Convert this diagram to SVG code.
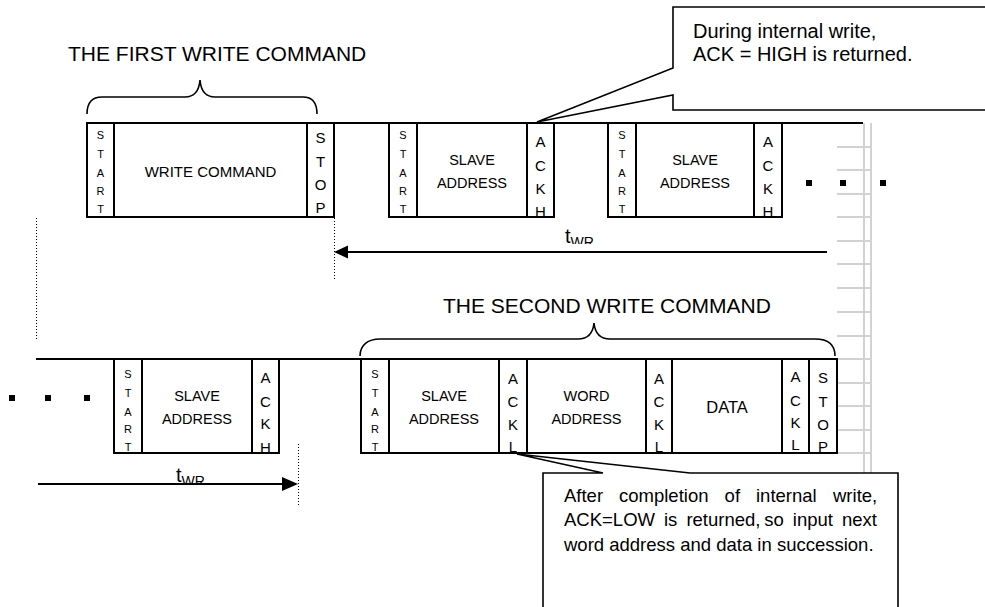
<svg xmlns="http://www.w3.org/2000/svg" width="985" height="607" viewBox="0 0 985 607">
<defs>
<style>
.cell{fill:none;stroke:#000;stroke-width:2}
.line{fill:none;stroke:#000;stroke-width:2}
.dot{fill:none;stroke:#000;stroke-width:1;stroke-dasharray:1 2}
.grid{fill:none;stroke:#d2d2d2;stroke-width:2}
.brace{fill:none;stroke:#000;stroke-width:1.6}
.call{fill:#fff;stroke:#000;stroke-width:1.6}
text{font-family:"Liberation Sans",Arial,sans-serif;fill:#000}
.v{font-size:15px;text-anchor:middle}
.s{font-size:11px;text-anchor:middle}
.c{font-size:14.5px;text-anchor:middle}
.title{font-size:21px}
.note{font-size:20px}
.note2{font-size:18.5px}
.t{font-size:20px}
.sub{font-size:14px}
</style>
<clipPath id="clipTop"><rect x="550" y="220" width="60" height="24"/></clipPath>
<clipPath id="clipBot"><rect x="160" y="460" width="60" height="24"/></clipPath>
</defs>
<rect width="985" height="607" fill="#fff"/>

<g id="grid">
<line class="grid" x1="864" y1="123" x2="864" y2="473"/>
<line class="grid" x1="871" y1="123" x2="871" y2="473"/>
<path class="grid" d="M837,147H871M837,170H871M837,194H871M837,217H871M837,241H871M837,264H871M837,288H871M837,312H871M837,336H871M837,359H871M837,383H871M837,406H871M837,430H871M837,453H871"/>
</g>

<g id="labels">
<text class="title" x="68" y="61">THE FIRST WRITE COMMAND</text>
<text class="title" x="443" y="313">THE SECOND WRITE COMMAND</text>
<path class="brace" d="M87,114C87,103 92,97 102,97L185,97C194,97 199,92 200,80C201,92 206,97 215,97L303,97C313,97 317,103 317,114"/>
<path class="brace" d="M360,356C360,345 368,339 380,339L578,339C588,339 593,333 594,323C595,333 600,339 610,339L815,339C828,339 835,345 835,356"/>
</g>

<g id="timeline-top">
<line class="line" x1="87" y1="123" x2="863" y2="123"/>
</g>
<g id="timeline-bottom">
<line class="line" x1="36" y1="359" x2="837" y2="359"/>
</g>

<g id="t1-start">
<text class="s" x="100.5" y="139">S</text><text class="s" x="100.5" y="158">T</text><text class="s" x="100.5" y="177">A</text><text class="s" x="100.5" y="195">R</text><text class="s" x="100.5" y="213">T</text>
<rect class="cell" x="87" y="123" width="27" height="94"/>
</g>
<g id="t1-write-command">
<text x="210.5" y="177" style="font-size:15px;text-anchor:middle">WRITE COMMAND</text>
<rect class="cell" x="114" y="123" width="193" height="94"/>
</g>
<g id="t1-stop">
<text class="v" x="320.5" y="143">S</text><text class="v" x="320.5" y="167">T</text><text class="v" x="320.5" y="190">O</text><text class="v" x="320.5" y="213">P</text>
<rect class="cell" x="307" y="123" width="27" height="94"/>
</g>

<g id="t2-start">
<text class="s" x="403" y="139">S</text><text class="s" x="403" y="158">T</text><text class="s" x="403" y="177">A</text><text class="s" x="403" y="195">R</text><text class="s" x="403" y="213">T</text>
<rect class="cell" x="389" y="123" width="28" height="94"/>
</g>
<g id="t2-slave">
<text class="c" x="472" y="165">SLAVE</text><text class="c" x="472" y="188">ADDRESS</text>
<rect class="cell" x="417" y="123" width="110" height="94"/>
</g>
<g id="t2-ack">
<text class="v" x="540.5" y="147">A</text><text class="v" x="540.5" y="171">C</text><text class="v" x="540.5" y="194">K</text><text class="v" x="540.5" y="217">H</text>
<rect class="cell" x="527" y="123" width="27" height="94"/>
</g>

<g id="t3-start">
<text class="s" x="622" y="139">S</text><text class="s" x="622" y="158">T</text><text class="s" x="622" y="177">A</text><text class="s" x="622" y="195">R</text><text class="s" x="622" y="213">T</text>
<rect class="cell" x="608" y="123" width="28" height="94"/>
</g>
<g id="t3-slave">
<text class="c" x="695" y="165">SLAVE</text><text class="c" x="695" y="188">ADDRESS</text>
<rect class="cell" x="636" y="123" width="118" height="94"/>
</g>
<g id="t3-ack">
<text class="v" x="768" y="147">A</text><text class="v" x="768" y="171">C</text><text class="v" x="768" y="194">K</text><text class="v" x="768" y="217">H</text>
<rect class="cell" x="754" y="123" width="28" height="94"/>
</g>
<g id="dots-top">
<rect x="806" y="180" width="6" height="6"/><rect x="840" y="180" width="6" height="6"/><rect x="880" y="180" width="6" height="6"/>
</g>

<g id="b1-start">
<text class="s" x="128" y="378">S</text><text class="s" x="128" y="397">T</text><text class="s" x="128" y="416">A</text><text class="s" x="128" y="433">R</text><text class="s" x="128" y="451">T</text>
<rect class="cell" x="114" y="359" width="28" height="94"/>
</g>
<g id="b1-slave">
<text class="c" x="197" y="401">SLAVE</text><text class="c" x="197" y="424">ADDRESS</text>
<rect class="cell" x="142" y="359" width="110" height="94"/>
</g>
<g id="b1-ack">
<text class="v" x="265.5" y="383">A</text><text class="v" x="265.5" y="407">C</text><text class="v" x="265.5" y="429">K</text><text class="v" x="265.5" y="453">H</text>
<rect class="cell" x="252" y="359" width="27" height="94"/>
</g>
<g id="dots-bottom">
<rect x="9" y="395" width="6" height="6"/><rect x="45" y="395" width="6" height="6"/><rect x="84" y="395" width="6" height="6"/>
</g>

<g id="b2-start">
<text class="s" x="375" y="378">S</text><text class="s" x="375" y="397">T</text><text class="s" x="375" y="416">A</text><text class="s" x="375" y="433">R</text><text class="s" x="375" y="451">T</text>
<rect class="cell" x="361" y="359" width="28" height="94"/>
</g>
<g id="b2-slave">
<text class="c" x="444" y="401">SLAVE</text><text class="c" x="444" y="424">ADDRESS</text>
<rect class="cell" x="389" y="359" width="110" height="94"/>
</g>
<g id="b2-ack1">
<text class="v" x="513" y="384">A</text><text class="v" x="513" y="407">C</text><text class="v" x="513" y="430">K</text><text class="v" x="513" y="452">L</text>
<rect class="cell" x="499" y="359" width="28" height="94"/>
</g>
<g id="b2-word">
<text class="c" x="586.5" y="401">WORD</text><text class="c" x="586.5" y="424">ADDRESS</text>
<rect class="cell" x="527" y="359" width="119" height="94"/>
</g>
<g id="b2-ack2">
<text class="v" x="659" y="384">A</text><text class="v" x="659" y="407">C</text><text class="v" x="659" y="430">K</text><text class="v" x="659" y="452">L</text>
<rect class="cell" x="646" y="359" width="26" height="94"/>
</g>
<g id="b2-data">
<text x="727" y="413" style="font-size:16.5px;text-anchor:middle">DATA</text>
<rect class="cell" x="672" y="359" width="110" height="94"/>
</g>
<g id="b2-ack3">
<text class="v" x="795.5" y="382">A</text><text class="v" x="795.5" y="406">C</text><text class="v" x="795.5" y="428">K</text><text class="v" x="795.5" y="450">L</text>
<rect class="cell" x="782" y="359" width="27" height="94"/>
</g>
<g id="b2-stop">
<text class="v" x="823" y="383">S</text><text class="v" x="823" y="407">T</text><text class="v" x="823" y="430">O</text><text class="v" x="823" y="452">P</text>
<rect class="cell" x="809" y="359" width="28" height="94"/>
</g>

<g id="connectors">
<line class="dot" x1="334.5" y1="218" x2="334.5" y2="280"/>
<line class="dot" x1="36.5" y1="218" x2="36.5" y2="340"/>
<line class="dot" x1="298.5" y1="444" x2="298.5" y2="505"/>
<line class="line" x1="346" y1="252" x2="827" y2="252"/>
<polygon points="334,252 348,245.5 348,258.5"/>
<line class="line" x1="38" y1="484" x2="284" y2="484"/>
<polygon points="298,484 282,477 282,491"/>
<g clip-path="url(#clipTop)"><text class="t" x="565" y="243">t<tspan class="sub" dy="4">WR</tspan></text></g>
<g clip-path="url(#clipBot)"><text class="t" x="176" y="482">t<tspan class="sub" dy="4">WR</tspan></text></g>
</g>

<g id="callout-high">
<path class="call" d="M986,7L673,7L673,68L537,122L673,95L673,110L986,110"/>
<text class="note" x="693" y="38">During internal write,</text>
<text class="note" x="693" y="61">ACK = HIGH is returned.</text>
</g>

<g id="callout-low">
<path class="call" d="M543,608L543,473L603,473L517,454L690,473L898,473L898,608"/>
<text class="note2" y="502"><tspan x="564">After</tspan><tspan x="619">completion</tspan><tspan x="724.6">of</tspan><tspan x="756">internal</tspan><tspan x="833">write,</tspan></text>
<text class="note2" y="526"><tspan x="564">ACK=LOW</tspan><tspan x="664">is</tspan><tspan x="686.4">returned,</tspan><tspan x="764.3">so</tspan><tspan x="792.8">input</tspan><tspan x="842">next</tspan></text>
<text class="note2" x="564" y="551">word address and data in succession.</text>
</g>
</svg>
